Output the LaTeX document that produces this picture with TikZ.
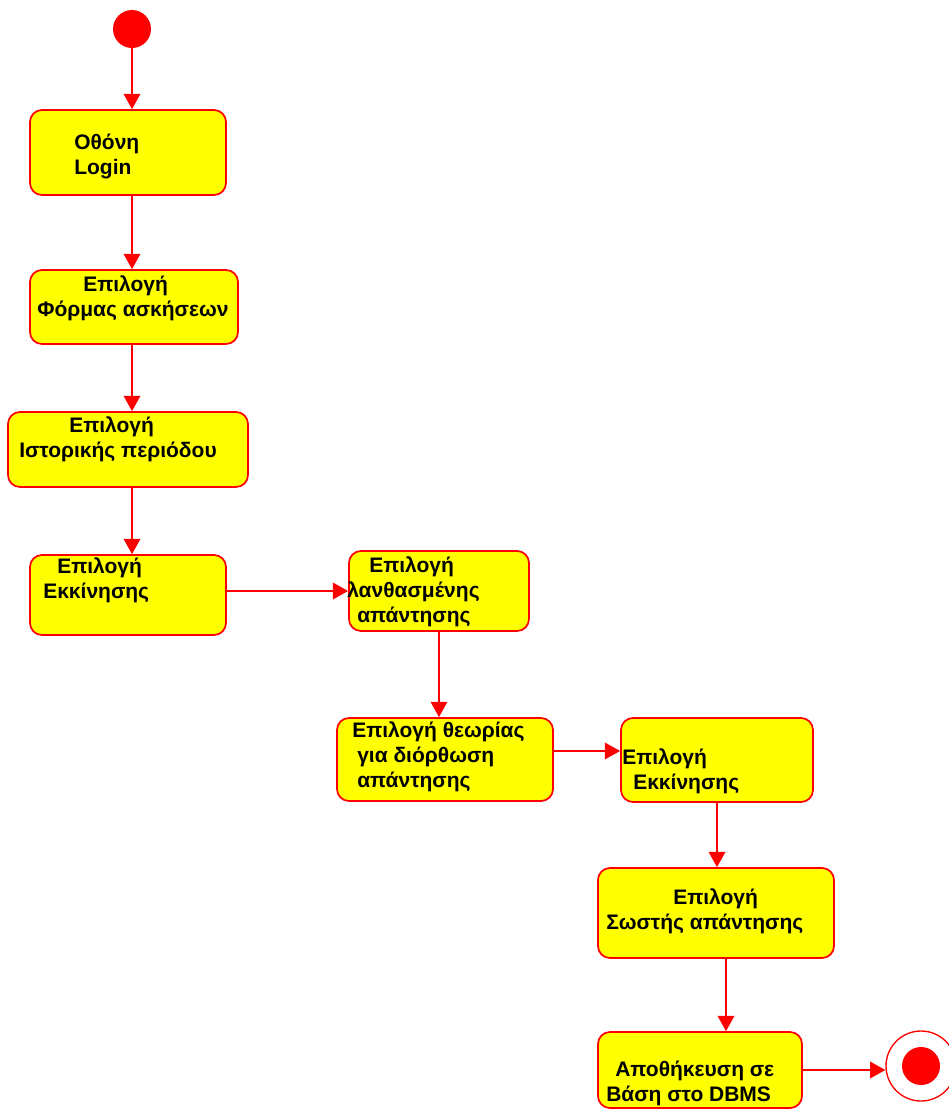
\documentclass[tikz,border=0pt]{standalone}
\usepackage{fontspec}
\setmainfont{Liberation Sans}
\usetikzlibrary{arrows.meta}
\definecolor{actyellow}{RGB}{255,255,0}
\definecolor{actred}{RGB}{255,0,0}

\begin{document}
\begin{tikzpicture}[
  x=0.75pt, y=-0.75pt,
  >={Triangle[length=11.5pt, width=12.5pt]},
  act/.style={draw=actred, line width=1.3pt, rounded corners=9pt, fill=actyellow, inner sep=0pt},
  txt/.style={anchor=base west, align=left, inner sep=0pt,
              font=\fontsize{15.75pt}{18.4pt}\selectfont\bfseries},
  arr/.style={->, draw=actred, line width=1.1pt}
]
\useasboundingbox (0,0) rectangle (949,1111);

% start and end states
\node[circle, fill=actred, inner sep=0pt, minimum size=28.5pt] (start) at (132,29) {};
\node[circle, draw=actred, line width=1pt, fill=white, inner sep=0pt, minimum size=52.5pt,
      path picture={\fill[actred] (path picture bounding box.center) circle (14.25pt);}]
      (end) at (921,1066) {};

% activities
\node[act, minimum width=147pt, minimum height=63.75pt] (login) at (128,152.5) {};
\node[act, minimum width=156pt, minimum height=55.5pt] (forma) at (134,307) {};
\node[act, minimum width=180pt, minimum height=56.25pt] (periodos) at (128,449.5) {};
\node[act, minimum width=147pt, minimum height=60pt] (ekkinisiA) at (128,595) {};
\node[act, minimum width=135pt, minimum height=60pt] (lathos) at (439,591) {};
\node[act, minimum width=162pt, minimum height=62.25pt] (theoria) at (445,759.5) {};
\node[act, minimum width=144pt, minimum height=63pt] (ekkinisiB) at (717,760) {};
\node[act, minimum width=177pt, minimum height=67.5pt] (sosti) at (716,913) {};
\node[act, minimum width=153pt, minimum height=57pt] (apothikeusi) at (700,1070) {};

% transitions
\draw[arr] (start.south) -- (start.south |- login.north);
\draw[arr] (login.south -| start) -- (forma.north -| start);
\draw[arr] (forma.south -| start) -- (periodos.north -| start);
\draw[arr] (periodos.south -| start) -- (ekkinisiA.north -| start);
\draw[arr] (ekkinisiA.east |- lathos.west) -- (lathos.west);
\draw[arr] (lathos.south) -- (lathos.south |- theoria.north);
\draw[arr] ([yshift=6.4pt]theoria.east) -- ([yshift=6.4pt]theoria.east -| ekkinisiB.west);
\draw[arr] (ekkinisiB.south) -- (ekkinisiB.south |- sosti.north);
\draw[arr] ([xshift=7.5pt]sosti.south) -- ([xshift=7.5pt]sosti.south |- apothikeusi.north);
\draw[arr] (apothikeusi.east) -- (apothikeusi.east -| end.west);

% labels (base = last line)
\node[txt] (login-t) at (74,174) {Οθόνη\\Login};
\node[txt] (forma-t) at (37,316) {\hspace*{34.5pt}Επιλογή\\Φόρμας ασκήσεων};
\node[txt] (periodos-t) at (19,457) {\hspace*{37.5pt}Επιλογή\\Ιστορικής περιόδου};
\node[txt] (ekkinisiA-t) at (43,598) {\hspace*{10.5pt}Επιλογή\\Εκκίνησης};
\node[txt] (lathos-t) at (347,622) {\hspace*{16.5pt}Επιλογή\\λανθασμένης\\\hspace*{7.5pt}απάντησης};
\node[txt] (theoria-t) at (352,787) {Επιλογή θεωρίας\\\hspace*{3.75pt}για διόρθωση\\\hspace*{3.75pt}απάντησης};
\node[txt] (ekkinisiB-t) at (622,789) {Επιλογή\\\hspace*{8.25pt}Εκκίνησης};
\node[txt] (sosti-t) at (606,929) {\hspace*{50.25pt}Επιλογή\\Σωστής απάντησης};
\node[txt] (apothikeusi-t) at (606,1101) {\hspace*{6.75pt}Αποθήκευση σε\\Βάση στο DBMS};
\end{tikzpicture}
\end{document}
